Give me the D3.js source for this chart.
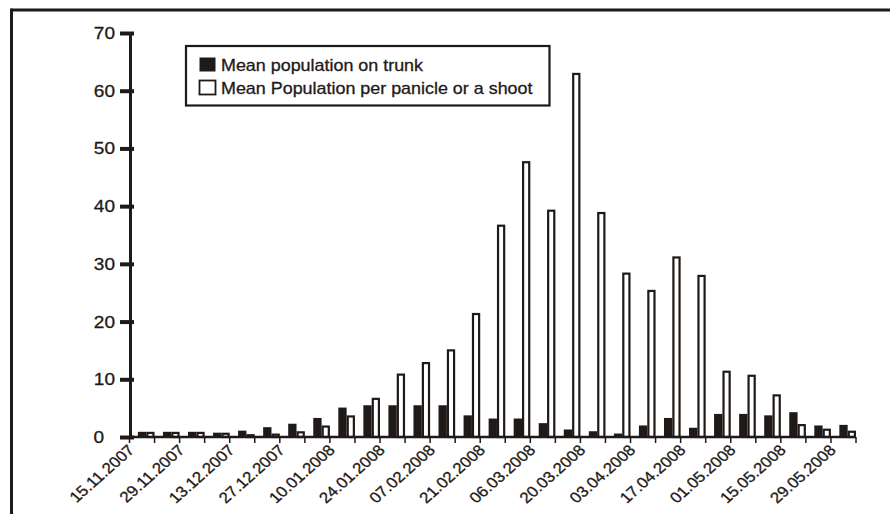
<!DOCTYPE html>
<html>
<head>
<meta charset="utf-8">
<script src="https://cdn.jsdelivr.net/npm/d3@7"></script>
<style>
  html, body { margin: 0; padding: 0; background: #fff; }
  svg { display: block; }
  text { font-family: "Liberation Sans", Arial, Helvetica, sans-serif; fill: #1f1a17; stroke: #1f1a17; stroke-width: 0.3px; }
</style>
</head>
<body>
<svg id="chart" width="890" height="514"></svg>
<script>
// ---- data ----
const dates = ["15.11.2007","22.11.2007","29.11.2007","06.12.2007","13.12.2007","20.12.2007","27.12.2007",
  "03.01.2008","10.01.2008","17.01.2008","24.01.2008","31.01.2008","07.02.2008","14.02.2008","21.02.2008",
  "28.02.2008","06.03.2008","13.03.2008","20.03.2008","27.03.2008","03.04.2008","10.04.2008","17.04.2008",
  "24.04.2008","01.05.2008","08.05.2008","15.05.2008","22.05.2008","29.05.2008"];
const trunk = [0.9,0.9,0.9,0.75,1.1,1.7,2.3,3.3,5.1,5.5,5.5,5.5,5.5,3.75,3.2,3.2,2.4,1.3,1.0,0.6,
  2.0,3.3,1.6,4.0,4.0,3.75,4.3,2.0,2.1];
const panicle = [0.9,0.9,0.9,0.75,0.5,0.6,1.0,2.0,3.75,6.8,11.0,13.0,15.2,21.5,36.8,47.8,39.4,63.1,39.0,28.5,
  25.5,31.3,28.1,11.5,10.8,7.4,2.25,1.45,1.1];
const xTickLabels = dates.filter((d, i) => i % 2 === 0);
const yTicks = [0,10,20,30,40,50,60,70];
const seriesNames = ["Mean population on trunk", "Mean Population per panicle or a shoot"];

// ---- drawing ----
const ink = "#1f1a17";
const svg = d3.select("#chart");
svg.append("rect").attr("width", 890).attr("height", 514).attr("fill", "#fff");

// frame (top and left edges)
svg.append("line").attr("x1", 11.5).attr("x2", 890).attr("y1", 10).attr("y2", 10)
  .attr("stroke", ink).attr("stroke-width", 3);
svg.append("line").attr("x1", 11.5).attr("x2", 11.5).attr("y1", 8.5).attr("y2", 514)
  .attr("stroke", ink).attr("stroke-width", 3);

const x = d3.scaleBand().domain(dates).range([129.5, 856]).padding(0);
const bw = x.bandwidth();
const xs = d3.scaleBand().domain(["trunk","panicle"]).range([bw * 0.335, bw]).padding(0);
const y = d3.scaleLinear().domain([0, 70]).range([437, 33]);

const data = dates.map((d, i) => ({ date: d, trunk: trunk[i], panicle: panicle[i] }));

// bars
const g = svg.append("g");
g.selectAll("rect.trunk").data(data).join("rect")
  .attr("class", "trunk")
  .attr("x", d => x(d.date) + xs("trunk"))
  .attr("width", xs.bandwidth())
  .attr("y", d => y(d.trunk))
  .attr("height", d => y(0) - y(d.trunk))
  .attr("fill", ink);
g.selectAll("rect.panicle").data(data).join("rect")
  .attr("class", "panicle")
  .attr("x", d => x(d.date) + xs("panicle") + 1.1)
  .attr("width", xs.bandwidth() - 2.2)
  .attr("y", d => y(d.panicle) + 1.1)
  .attr("height", d => Math.max(0, y(0) - y(d.panicle) - 1.1))
  .attr("fill", "#fff")
  .attr("stroke", ink)
  .attr("stroke-width", 2.2);

// x axis: line, ticks at band boundaries
const xBounds = dates.map(d => x(d)).concat([x.range()[1]]);
svg.append("line").attr("x1", 129).attr("x2", 856).attr("y1", y(0)).attr("y2", y(0))
  .attr("stroke", ink).attr("stroke-width", 2.6);
svg.selectAll("line.xtick").data(xBounds).join("line")
  .attr("class", "xtick")
  .attr("x1", d => d).attr("x2", d => d)
  .attr("y1", y(0)).attr("y2", y(0) + 6)
  .attr("stroke", ink).attr("stroke-width", 1.5);
svg.selectAll("text.xlab").data(xTickLabels).join("text")
  .attr("class", "xlab")
  .attr("text-anchor", "end")
  .attr("font-size", 15)
  .attr("transform", d => `translate(${x(d) + 6},${y(0) + 14}) scale(1.13,1) rotate(-45)`)
  .text(d => d);

// y axis
const yAxis = d3.axisLeft(y).tickValues(yTicks).tickSize(10).tickSizeOuter(0).tickPadding(5);
const ya = svg.append("g").attr("transform", "translate(130,0)").call(yAxis);
ya.select(".domain").attr("stroke", ink).attr("stroke-width", 3);
ya.selectAll(".tick line").attr("x1", 4).attr("stroke", ink).attr("stroke-width", 4);
ya.selectAll(".tick text")
  .attr("x", null)
  .attr("font-size", 17)
  .attr("font-family", "'Liberation Sans', Arial, sans-serif")
  .attr("fill", ink)
  .attr("transform", d => `translate(${d === 0 ? -26 : -15},0) scale(1.12,1)`);

// legend
const lg = svg.append("g");
lg.append("rect").attr("x", 186).attr("y", 46).attr("width", 363.5).attr("height", 59.5)
  .attr("fill", "#fff").attr("stroke", ink).attr("stroke-width", 2.2);
const rows = [
  { name: seriesNames[0], fill: ink, sy: 57.5, ty: 71 },
  { name: seriesNames[1], fill: "#fff", sy: 80.5, ty: 94 }
];
rows.forEach(r => {
  lg.append("rect").attr("x", 199.5).attr("y", r.sy).attr("width", 16).attr("height", 14)
    .attr("fill", r.fill).attr("stroke", ink).attr("stroke-width", r.fill === ink ? 0 : 1.8);
  lg.append("text").attr("font-size", 16)
    .attr("transform", `translate(221,${r.ty}) scale(1.12,1)`)
    .text(r.name);
});
</script>
</body>
</html>
